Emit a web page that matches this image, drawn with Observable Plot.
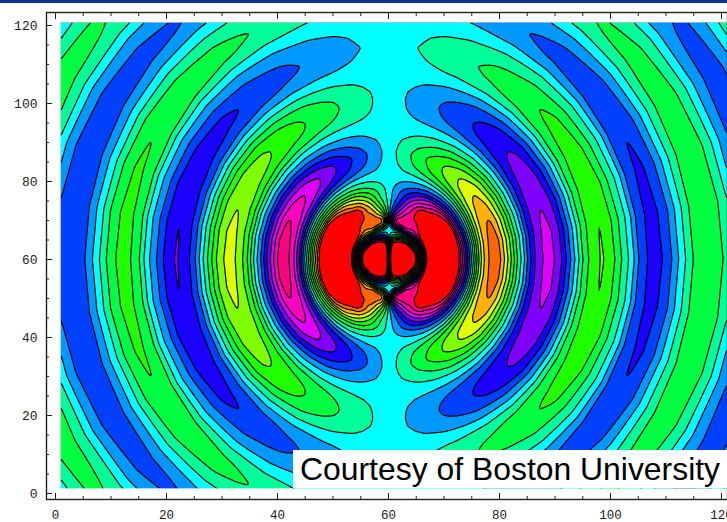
<!DOCTYPE html>
<html><head><meta charset="utf-8">
<script src="https://cdn.jsdelivr.net/npm/d3@7"></script>
<script src="https://cdn.jsdelivr.net/npm/@observablehq/plot@0.6"></script>
<style>
html,body{margin:0;padding:0;background:#fff;overflow:hidden}
#wrap{position:relative;width:727px;height:522px;overflow:hidden}
#bar{position:absolute;left:0;top:0;width:727px;height:3px;background:linear-gradient(#0a2a7a,#0b3fb0 60%,#0a2060)}
#note{position:absolute;left:293px;top:450px;width:434px;height:38px;background:#fff;color:#000;
font:31.9px "Liberation Sans",Arial,sans-serif;line-height:38px;padding-left:7px;box-sizing:border-box;white-space:nowrap}
svg text{font-family:"Liberation Mono",monospace}
</style></head><body><div id="wrap"><div id="bar"></div><div id="note">Courtesy of Boston University</div></div>
<script>
// Field at (radius, angle) around the centre of the plot; upper right quadrant.
const angles=[0,10,20,30,40,50,60,70,80,90];
const radii=[1,5,12,18,22,26,29,33,37,42,48,55,61,66,70,74,79,83.5,90,96,101,107,112,118,124,129,134,142,149,154,160,166,173,180,188,195,201,207,213,219,226,234,243,250,258,266,274,283,293,304,312,320,330,339,347,356,365,374,383,392,401,412];
const field=[
[-10,-10,-10,-10,-10,-10,-10,-10,-10,0],
[-10,-10,-10,-10,-10,-10,-10,-10,-10,0],
[-10,-10,-10,-10,-10,-10,-10,-10,-9,0],
[-10,-10,-10,-10,-10,-10,-9,-7.6,-7.4,0],
[-10,-10,-10,-9.5,-9,-7.2,-6,-4.5,-3,0],
[-8.5,-8.5,-7.5,-5,-4.5,-3,-2,-1.5,-1,0],
[-5.5,-5,-3.5,-1.5,-0.5,0,0.8,0,0,0],
[0,0.5,1.5,3,4,5,6,4,4,0],
[7.6,7.6,7.6,7.6,7,6.5,7,7.4,7,0],
[10,10,10,9.5,8.5,7,7.2,7.4,6.5,0],
[13,13,12,11.5,10,8.5,7.4,6.5,4.2,0],
[15,15,14,13,11.5,9.6,7.6,5.5,2.8,0],
[13,13,12.5,10.5,9,7.5,6.5,4.4,2,0],
[10,10,9.4,8.7,7.7,6.4,5,3.4,1.7,0],
[7.6,7.7,7.8,7.6,6.4,5.2,4,2.7,1.4,0],
[5.3,5.3,5,4.5,3.9,3.2,2.5,1.7,0.9,0],
[2.5,2.5,2.3,2.1,1.9,1.6,1.2,0.8,0.45,0],
[0,0,0,0,0,0,0,0,0,0],
[-3.6,-3.5,-3.4,-3.1,-2.8,-2.3,-1.8,-1.2,-0.6,0],
[-5.8,-5.7,-5.5,-5,-4.4,-3.7,-2.9,-2,-1,0],
[-6.7,-6.6,-6.3,-5.8,-5.1,-4.3,-3.35,-2.3,-1.2,0],
[-7.4,-7.2,-6.7,-6,-5.35,-4.45,-3.5,-2.5,-1.3,0],
[-6.5,-6.4,-6,-5.4,-4.8,-4,-3.15,-2.2,-1.1,0],
[-4.8,-4.7,-4.5,-4.1,-3.7,-3.1,-2.4,-1.6,-0.85,0],
[-3,-2.95,-2.8,-2.6,-2.3,-1.9,-1.5,-1,-0.5,0],
[-1.3,-1.3,-1.2,-1.1,-1,-0.85,-0.65,-0.45,-0.25,0],
[0,0,0,0,0,0,0,0,0,0],
[2.6,2.55,2.45,2.25,2,1.65,1.3,0.9,0.45,0],
[4,3.9,3.75,3.45,3.05,2.55,2,1.35,0.7,0],
[4.55,4.5,4.3,3.95,3.5,2.9,2.3,1.55,0.8,0],
[4.8,4.75,4.5,4.15,3.65,3.05,2.4,1.65,0.85,0],
[4.5,4.45,4.2,3.9,3.45,2.9,2.25,1.55,0.8,0],
[3.5,3.45,3.3,3,2.7,2.25,1.75,1.2,0.6,0],
[1.9,1.85,1.8,1.65,1.45,1.2,0.95,0.65,0.35,0],
[0,0,0,0,0,0,0,0,0,0],
[-1.8,-1.75,-1.7,-1.55,-1.4,-1.15,-0.9,-0.6,-0.3,0],
[-2.7,-2.65,-2.55,-2.35,-2.05,-1.75,-1.35,-0.9,-0.45,0],
[-3.3,-3.25,-3.1,-2.85,-2.55,-2.1,-1.65,-1.1,-0.55,0],
[-3.6,-3.55,-3.4,-3.1,-2.75,-2.3,-1.8,-1.25,-0.65,0],
[-3.3,-3.25,-3.1,-2.85,-2.55,-2.1,-1.65,-1.1,-0.55,0],
[-2.5,-2.45,-2.35,-2.15,-1.9,-1.6,-1.25,-0.85,-0.45,0],
[-1.3,-1.3,-1.2,-1.1,-1,-0.85,-0.65,-0.45,-0.25,0],
[0,0,0,0,0,0,0,0,0,0],
[1.6,1.55,1.5,1.4,1.25,1.05,0.8,0.55,0.3,0],
[2.5,2.45,2.35,2.15,1.9,1.6,1.25,0.85,0.45,0],
[2.85,2.8,2.7,2.45,2.2,1.85,1.45,1,0.5,0],
[2.5,2.45,2.35,2.15,1.9,1.6,1.25,0.85,0.45,0],
[1.5,1.5,1.4,1.3,1.15,0.95,0.75,0.5,0.25,0],
[0,0,0,0,0,0,0,0,0,0],
[-1.5,-1.5,-1.4,-1.3,-1.15,-0.95,-0.75,-0.5,-0.25,0],
[-2.2,-2.15,-2.05,-1.9,-1.7,-1.4,-1.1,-0.75,-0.4,0],
[-2.4,-2.35,-2.25,-2.1,-1.85,-1.55,-1.2,-0.8,-0.4,0],
[-1.9,-1.85,-1.8,-1.65,-1.45,-1.2,-0.95,-0.65,-0.35,0],
[-1,-1,-0.95,-0.85,-0.75,-0.65,-0.5,-0.35,-0.15,0],
[0,0,0,0,0,0,0,0,0,0],
[1.3,1.3,1.2,1.1,1,0.85,0.65,0.45,0.2,0],
[1.9,1.85,1.8,1.65,1.45,1.2,0.95,0.65,0.35,0],
[2.05,2,1.9,1.8,1.55,1.3,1,0.7,0.35,0],
[1.9,1.85,1.8,1.65,1.45,1.2,0.95,0.65,0.35,0],
[1.2,1.2,1.15,1.05,0.9,0.75,0.6,0.4,0.2,0],
[0,0,0,0,0,0,0,0,0,0],
[-1.2,-1.2,-1.15,-1.05,-0.9,-0.75,-0.6,-0.4,-0.2,0]
];
const levels=[-99,-7.5,-6.5,-5.5,-4.5,-3.5,-2.5,-1.5,-0.5,0.5,1.5,2.5,3.5,4.5,5.5,6.5,7.5];
const bandColors=["#ff0000","#ff6600","#ffb000","#e0ff00","#80ff00","#20ff00","#00ff40","#00ff99","#00ffff","#0099ff","#0040ff","#1a00ff","#8000ff","#e000ff","#ff00c0","#ff0080","#ff0000"];
const majorTicks=[0,20,40,60,80,100,120];
const minorTicks=[5,10,15,25,30,35,45,50,55,65,70,75,85,90,95,105,110,115];

// Radii are in screen pixels of the 5.55 x 3.9 px-per-unit plot.
const pxX=5.55,pxY=3.9,cx=60.1,cy=60.1;
const points=[];
radii.forEach((r,i)=>angles.forEach((a,j)=>{
  const dx=r*Math.cos(a*Math.PI/180)/pxX,dy=r*Math.sin(a*Math.PI/180)/pxY,v=field[i][j];
  for(const sx of j===9?[1]:[1,-1]) for(const sy of j===0?[1]:[1,-1])
    points.push({x:cx+sx*dx,y:cy+sy*dy,v:sx*v});
}));

const tickMark=(Axis,anchor,ticks,tickSize)=>Axis({anchor,ticks,tickSize,text:null,label:null,stroke:"#222"});
const chart=Plot.plot({
  width:727,height:522,marginLeft:46,marginRight:0,marginTop:12,marginBottom:23,
  x:{domain:[-1.62,121.08],axis:null},
  y:{domain:[-1.54,123.33],axis:null},
  color:{type:"ordinal",domain:levels,range:bandColors},
  marks:[
    Plot.contour(points,{x:"x",y:"y",fill:"v",interpolate:"barycentric",thresholds:levels,
      x1:0.8,x2:121.1,y1:0.85,y2:120.95,pixelSize:1,blur:1,stroke:"#000",strokeWidth:1.2}),
    Plot.rect([0],{x1:0.8,x2:123,y1:0.85,y2:120.95,fill:"none",stroke:"#fff",strokeWidth:2.6}),
    Plot.frame({stroke:"#222",strokeWidth:1.4}),
    tickMark(Plot.axisX,"bottom",majorTicks,-6),
    tickMark(Plot.axisX,"bottom",minorTicks,-3),
    tickMark(Plot.axisX,"top",majorTicks,-6),
    tickMark(Plot.axisX,"top",minorTicks,-3),
    tickMark(Plot.axisY,"left",majorTicks,-6),
    tickMark(Plot.axisY,"left",minorTicks,-3),
    Plot.axisX({anchor:"bottom",ticks:majorTicks,tickSize:0,tickPadding:11,label:null,fontSize:12.5,fill:"#222"}),
    Plot.axisY({anchor:"left",ticks:majorTicks,tickSize:0,tickPadding:9,label:null,fontSize:13,fill:"#222"})
  ]
});
document.getElementById("wrap").prepend(chart);
</script></body></html>
